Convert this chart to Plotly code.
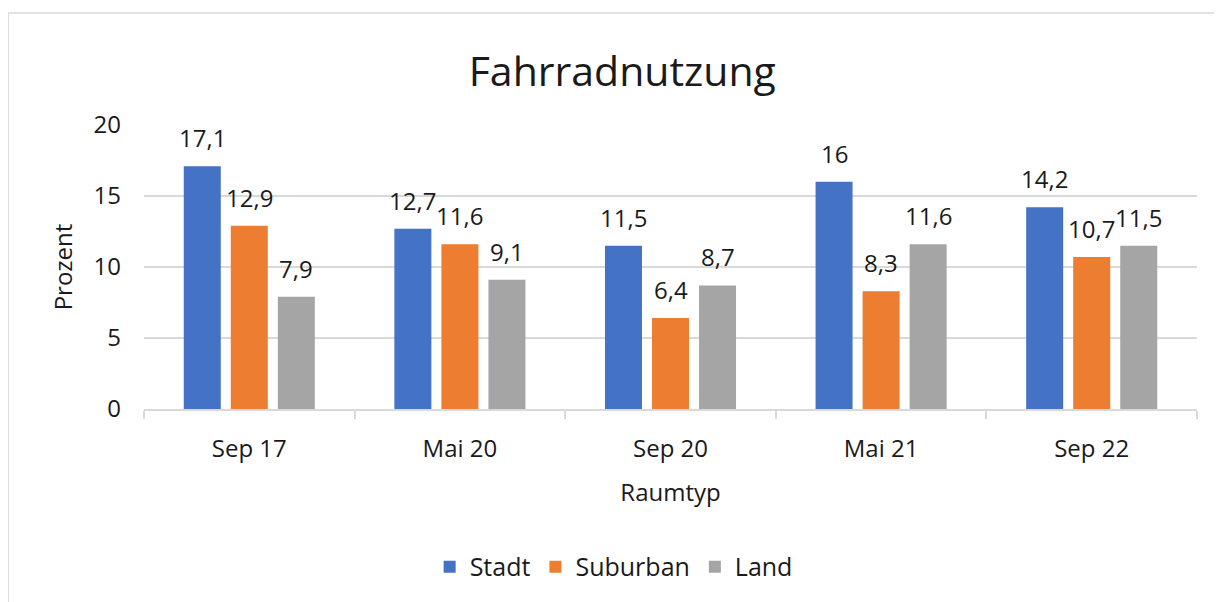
import plotly.graph_objects as go

categories = ["Sep 17", "Mai 20", "Sep 20", "Mai 21", "Sep 22"]
stadt = [17.1, 12.7, 11.5, 16.0, 14.2]
suburban = [12.9, 11.6, 6.4, 8.3, 10.7]
land = [7.9, 9.1, 8.7, 11.6, 11.5]
series_names = ["Stadt", "Suburban", "Land"]
colors = ["#4472C4", "#ED7D31", "#A5A5A5"]

FONT = "Open Sans"
TXT = "#1a1a1a"

def fmt(v):
    s = ("%.1f" % v).rstrip("0").rstrip(".")
    return s.replace(".", ",")

fig = go.Figure()
all_series = [stadt, suburban, land]
for name, vals, col in zip(series_names, all_series, colors):
    fig.add_trace(go.Bar(x=categories, y=vals, name=name, marker=dict(color=col, line=dict(width=0))))

offsets = [-47, 0, 47]
annotations = []
for vals, off in zip(all_series, offsets):
    for c, v in zip(categories, vals):
        annotations.append(dict(x=c, y=v, xref="x", yref="y", text=fmt(v), showarrow=False,
                                xshift=off, yanchor="bottom", yshift=10,
                                font=dict(family=FONT, size=24, color=TXT)))

fig.update_layout(
    width=1214, height=594,
    margin=dict(l=136, r=25, t=117, b=193),
    paper_bgcolor="white", plot_bgcolor="white",
    barmode="group", bargap=0.33, bargroupgap=0.213,
    title=dict(text="Fahrradnutzung", x=0.506, xanchor="center", y=0.8935, yanchor="middle",
               font=dict(family=FONT, size=41, color=TXT)),
    font=dict(family=FONT, color=TXT),
    showlegend=True,
    legend=dict(orientation="h", x=0.446, xanchor="center", y=-0.556, yanchor="middle",
                font=dict(family=FONT, size=25, color=TXT), itemwidth=30, traceorder="normal"),
    annotations=annotations,
)
fig.update_yaxes(range=[0, 20], dtick=5, showgrid=True, gridcolor="#d9d9d9", gridwidth=1.5,
                 zeroline=False, showline=False, ticks="", ticklabelstandoff=22,
                 tickfont=dict(family=FONT, size=24, color=TXT),
                 title=dict(text="Prozent", font=dict(family=FONT, size=24, color=TXT), standoff=14))
fig.update_xaxes(showline=True, linecolor="#d9d9d9", linewidth=1.5, ticks="outside", ticklen=8,
                 tickcolor="#d9d9d9", tickwidth=1.5, tickson="boundaries", ticklabelstandoff=17,
                 tickfont=dict(family=FONT, size=24, color=TXT),
                 title=dict(text="Raumtyp", font=dict(family=FONT, size=24, color=TXT), standoff=22))

fig.add_shape(type="rect", xref="paper", yref="paper", x0=-0.129, x1=1.2, y0=-1.5, y1=1.394,
              line=dict(color="#d9d9d9", width=1.5), fillcolor="rgba(0,0,0,0)", layer="below")

fig.write_html("out.html")
